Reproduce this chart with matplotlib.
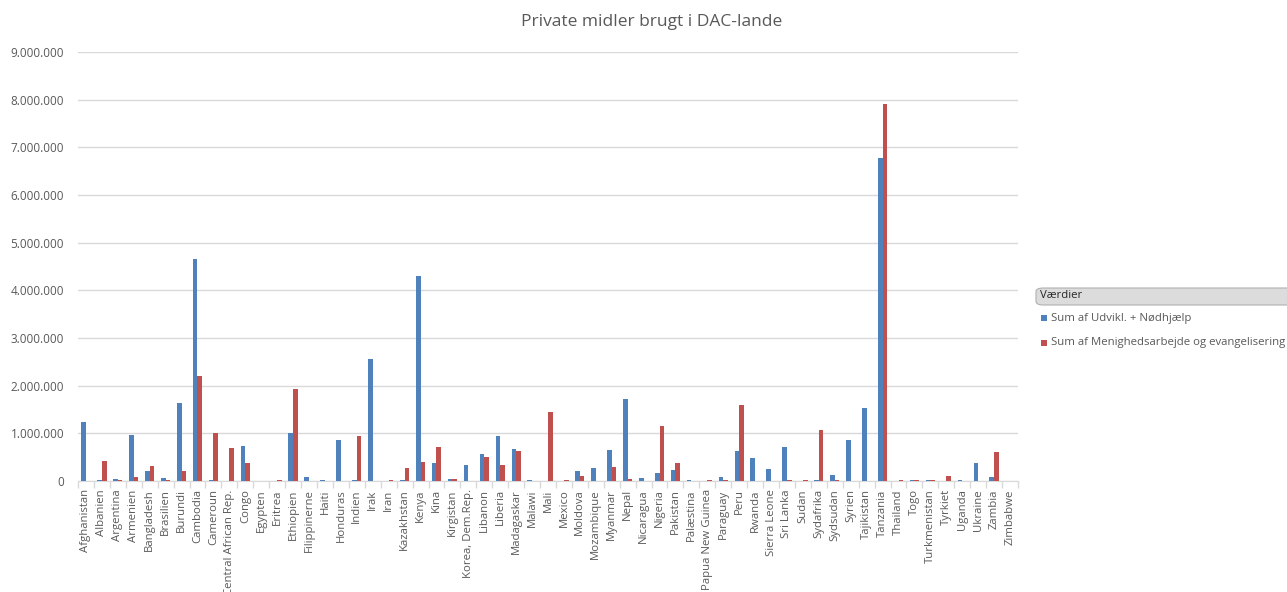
import numpy as np
import matplotlib
matplotlib.use('agg')
import matplotlib.pyplot as plt
from matplotlib.ticker import FuncFormatter, FixedLocator
from matplotlib.patches import FancyBboxPatch, Rectangle

lande = ['Afghanistan', 'Albanien', 'Argentina', 'Armenien', 'Bangladesh', 'Brasilien',
         'Burundi', 'Cambodia', 'Cameroun', 'Central African Rep.', 'Congo', 'Egypten',
         'Eritrea', 'Ethiopien', 'Filippinerne', 'Haiti', 'Honduras', 'Indien', 'Irak',
         'Iran', 'Kazakhstan', 'Kenya', 'Kina', 'Kirgistan', 'Korea, Dem.Rep.', 'Libanon',
         'Liberia', 'Madagaskar', 'Malawi', 'Mali', 'Mexico', 'Moldova', 'Mozambique',
         'Myanmar', 'Nepal', 'Nicaragua', 'Nigeria', 'Pakistan', 'Palæstina',
         'Papua New Guinea', 'Paraguay', 'Peru', 'Rwanda', 'Sierra Leone', 'Sri Lanka',
         'Sudan', 'Sydafrika', 'Sydsudan', 'Syrien', 'Tajikistan', 'Tanzania', 'Thailand',
         'Togo', 'Turkmenistan', 'Tyrkiet', 'Uganda', 'Ukraine', 'Zambia', 'Zimbabwe']

# Sum af Udvikl. + Nødhjælp
udvikl = [1240000, 20000, 40000, 960000, 220000, 60000,
          1630000, 4650000, 20000, 0, 730000, 0,
          0, 1010000, 80000, 20000, 870000, 20000, 2560000,
          0, 20000, 4300000, 380000, 40000, 330000, 570000,
          940000, 680000, 20000, 0, 0, 200000, 270000,
          660000, 1720000, 60000, 160000, 230000, 20000,
          0, 85000, 620000, 480000, 250000, 710000,
          0, 20000, 130000, 870000, 1540000, 6780000, 0,
          20000, 20000, 0, 20000, 380000, 85000, 0]

# Sum af Menighedsarbejde og evangelisering
menighed = [0, 430000, 20000, 85000, 310000, 20000,
            200000, 2200000, 1000000, 690000, 380000, 0,
            20000, 1930000, 0, 0, 0, 940000, 0,
            20000, 270000, 400000, 710000, 40000, 0, 500000,
            330000, 620000, 0, 1450000, 20000, 100000, 0,
            290000, 40000, 0, 1150000, 380000, 0,
            20000, 20000, 1590000, 0, 0, 20000,
            20000, 1080000, 20000, 0, 0, 7900000, 20000,
            20000, 20000, 100000, 0, 0, 600000, 0]

blaa = '#4F81BD'
roed = '#C0504D'
tekst = '#595959'

plt.rcParams['font.family'] = ['Open Sans', 'DejaVu Sans']

fig = plt.figure(figsize=(12.87, 5.92), dpi=100)
ax = fig.add_axes([78/1287, 1 - 481/592, (1018 - 78)/1287, (481 - 52)/592])

x = np.arange(len(lande))
w = 0.29
ax.bar(x - w/2, udvikl, w, color=blaa, zorder=3)
ax.bar(x + w/2, menighed, w, color=roed, zorder=3)

ax.set_xlim(-0.5, len(lande) - 0.5)
ax.set_ylim(0, 9000000)
ax.set_yticks(np.arange(0, 9000001, 1000000))
ax.yaxis.set_major_formatter(FuncFormatter(lambda v, p: f'{int(v):,}'.replace(',', '.')))
ax.grid(axis='y', color='#D9D9D9', linewidth=1, zorder=0)

ax.set_xticks(x)
ax.set_xticklabels(lande, rotation=90, fontsize=8.2, color=tekst)
ax.tick_params(axis='x', length=0, pad=6)
ax.xaxis.set_minor_locator(FixedLocator(np.arange(-0.5, len(lande), 1)))
ax.tick_params(axis='x', which='minor', length=5, color='#D9D9D9', width=1)
ax.tick_params(axis='y', length=0, labelsize=8.5, labelcolor=tekst, pad=10)

for s in ['top', 'right', 'left']:
    ax.spines[s].set_visible(False)
ax.spines['bottom'].set_color('#D9D9D9')

fig.text(652/1287, 1 - 22/592, 'Private midler brugt i DAC-lande', ha='center', va='center',
         fontsize=12.5, color=tekst)

# legend (Excel pivot style)
hdr = FancyBboxPatch((1036/1287, 1 - 305/592), 260/1287, 17/592,
                     boxstyle='round,pad=0,rounding_size=0.006', transform=fig.transFigure,
                     facecolor='#DCDCDC', edgecolor='#B0B0B0', linewidth=0.8, clip_on=False)
fig.patches.append(hdr)
fig.text(1040/1287, 1 - 296/592, 'Værdier', ha='left', va='center', fontsize=8.2, color='#262626')
for yy, lbl, c in [(318, 'Sum af Udvikl. + Nødhjælp', blaa),
                   (343, 'Sum af Menighedsarbejde og evangelisering', roed)]:
    fig.patches.append(Rectangle((1041/1287, 1 - (yy + 3)/592), 6/1287, 6/592,
                                 transform=fig.transFigure, facecolor=c, edgecolor='none'))
    fig.text(1051/1287, 1 - yy/592, lbl, ha='left', va='center', fontsize=8.2, color=tekst)

fig.savefig('out.png', dpi=100)
